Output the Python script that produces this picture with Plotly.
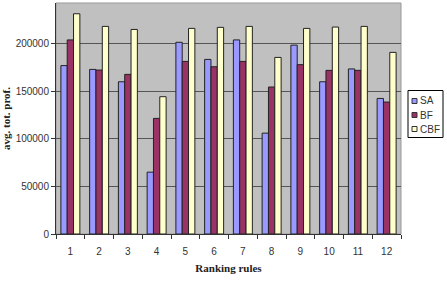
import plotly.graph_objects as go

categories = [str(i) for i in range(1, 13)]
sa = [177000, 173000, 160000, 65000, 201500, 183500, 204000, 106000, 198500, 160000, 173500, 142500]
bf = [204000, 172300, 167800, 121500, 181400, 175800, 181400, 154500, 178000, 172000, 172000, 138700]
cbf = [231500, 218200, 215000, 144300, 216100, 217200, 218200, 185600, 216100, 217500, 218200, 190900]

series = [("SA", sa, "#9999FF"), ("BF", bf, "#993366"), ("CBF", cbf, "#FFFFCC")]

W, H = 447, 282
ML, MR, MT, MB = 56, 46, 3, 48
PW, PH = W - ML - MR, H - MT - MB


def px(x):
    return (x - ML) / PW


def py(y):
    return (H - MB - y) / PH


fig = go.Figure()
for name, vals, col in series:
    fig.add_trace(go.Bar(x=categories, y=vals, name=name, marker_color=col,
                         marker_line=dict(color="#222222", width=1), showlegend=False))

shapes = [dict(type="rect", xref="paper", yref="paper", x0=0, y0=0, x1=1, y1=1,
               line=dict(color="#999999", width=1), layer="below"),
          dict(type="rect", xref="paper", yref="paper", x0=px(408), x1=px(443),
               y0=py(137.5), y1=py(90.5), line=dict(color="#000000", width=1),
               fillcolor="white")]
annotations = []
for i, (name, vals, col) in enumerate(series):
    cy = 101 + 14 * i
    shapes.append(dict(type="rect", xref="paper", yref="paper", x0=px(412), x1=px(417),
                       y0=py(cy + 2.5), y1=py(cy - 2.5), fillcolor=col,
                       line=dict(color="#333333", width=1)))
    annotations.append(dict(text=name, xref="paper", yref="paper", x=px(418), y=py(cy),
                            xanchor="left", yanchor="middle", showarrow=False,
                            font=dict(family="Liberation Sans, Arial", size=10, color="#333333")))

fig.update_layout(
    width=W, height=H,
    margin=dict(l=ML, r=MR, t=MT, b=MB, autoexpand=False),
    barmode="group", bargap=0.34, bargroupgap=0,
    plot_bgcolor="#C0C0C0", paper_bgcolor="white",
    font=dict(family="Liberation Sans, Arial", size=10, color="#333333"),
    showlegend=False,
    xaxis=dict(type="category", showline=True, linecolor="#333333", linewidth=1,
               ticks="outside", tickson="boundaries", ticklen=4, tickcolor="#333333",
               showgrid=False, ticklabelstandoff=8,
               title=dict(text="<b>Ranking rules</b>", standoff=8,
                          font=dict(family="Liberation Serif, Times New Roman", size=11,
                                    color="#222222"))),
    yaxis=dict(range=[0, 242800], dtick=50000, showline=True, linecolor="#333333",
               linewidth=1, ticks="outside", ticklen=4, tickcolor="#333333",
               gridcolor="#555555", gridwidth=1, zeroline=False,
               tickformat="d",
               title=dict(text="<b>avg. tot. prof.</b>", standoff=8,
                          font=dict(family="Liberation Serif, Times New Roman", size=11,
                                    color="#222222"))),
    shapes=shapes,
    annotations=annotations,
)

fig.write_html("out.html")
